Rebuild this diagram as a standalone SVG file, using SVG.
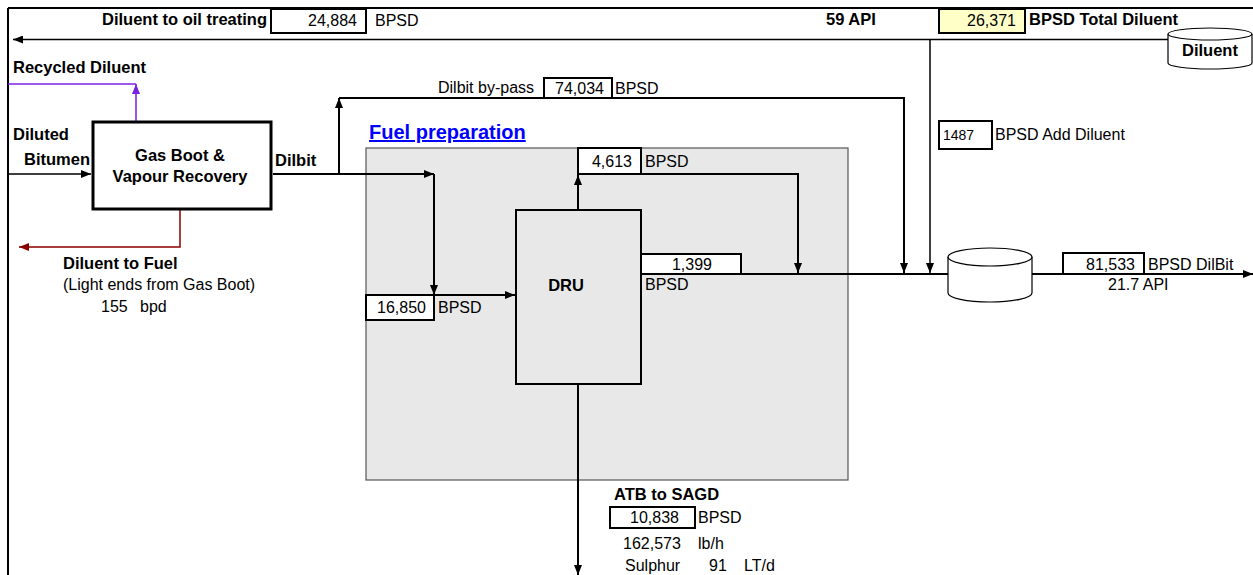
<svg xmlns="http://www.w3.org/2000/svg" width="1253" height="575" viewBox="0 0 1253 575">
<defs>
<marker id="ah" markerUnits="userSpaceOnUse" markerWidth="10" markerHeight="8" refX="10" refY="4" orient="auto"><path d="M0,0 L10,4 L0,8 z" fill="#000"/></marker>
<marker id="ahp" markerUnits="userSpaceOnUse" markerWidth="10" markerHeight="8" refX="10" refY="4" orient="auto"><path d="M0,0 L10,4 L0,8 z" fill="#7A1FE0"/></marker>
<marker id="ahr" markerUnits="userSpaceOnUse" markerWidth="10" markerHeight="8" refX="10" refY="4" orient="auto"><path d="M0,0 L10,4 L0,8 z" fill="#8B0000"/></marker>
<style>
text{font-family:"Liberation Sans",Arial,sans-serif;font-size:16px;fill:#000}
.b{font-weight:bold;font-size:16.5px}
.e{text-anchor:end}
.m{text-anchor:middle}
.vb{fill:#fff;stroke:#000;stroke-width:2}
.c1{fill:none;stroke:#000;stroke-width:1.5}
.c2{fill:none;stroke:#000;stroke-width:2}
.tank{fill:#fff;stroke:#000;stroke-width:1.2}
</style>
</defs>
<rect width="1253" height="575" fill="#fff"/>
<g id="frame">
<line x1="8" y1="8" x2="1253" y2="8" stroke="#000" stroke-width="2"/>
<line x1="8" y1="8" x2="8" y2="575" stroke="#000" stroke-width="2"/>
</g>
<g id="fuel-prep">
<rect x="366" y="148" width="482" height="332" fill="#E8E8E8" stroke="#555" stroke-width="1.2"/>
<text x="369" y="139" class="b" style="font-size:20px;fill:#0000FF" text-decoration="underline">Fuel preparation</text>
</g>
<g id="connectors">
<path class="c1" d="M1168,39.5 H13" marker-end="url(#ah)"/>
<path class="c1" d="M930,40 V273" marker-end="url(#ah)"/>
<path class="c1" d="M8,174 H91" marker-end="url(#ah)"/>
<path d="M136,121 V84" fill="none" stroke="#7A1FE0" stroke-width="1.5" marker-end="url(#ahp)"/>
<path d="M136,84 H8" fill="none" stroke="#7A1FE0" stroke-width="1.5"/>
<path d="M180,210 V247 H19" fill="none" stroke="#8B0000" stroke-width="1.5" marker-end="url(#ahr)"/>
<path class="c2" d="M273,174 H434" marker-end="url(#ah)"/>
<path class="c2" d="M434,174 V295" marker-end="url(#ah)"/>
<path class="c2" d="M339,174 V98" marker-end="url(#ah)"/>
<path class="c2" d="M339,98 H904 V273" marker-end="url(#ah)"/>
<path class="c2" d="M366,295 H515" marker-end="url(#ah)"/>
<path class="c2" d="M578,210 V175" marker-end="url(#ah)"/>
<path class="c2" d="M578,174 H798 V273" marker-end="url(#ah)"/>
<path class="c2" d="M641,274 H948"/>
<path class="c2" d="M1032,274 H1253" marker-end="url(#ah)"/>
<path class="c2" d="M578,384 V575" marker-end="url(#ah)"/>
</g>
<g id="top-labels">
<text x="267" y="25" class="b e">Diluent to oil treating</text>
<rect x="271" y="9" width="95" height="24" class="vb"/>
<text x="357" y="26" class="e">24,884</text>
<text x="375" y="26">BPSD</text>
<text x="826" y="25" class="b">59 API</text>
<rect x="939" y="9" width="86" height="24" fill="#FFFFC8" stroke="#000" stroke-width="2"/>
<text x="1016" y="26" class="e">26,371</text>
<text x="1029" y="25" class="b">BPSD Total Diluent</text>
</g>
<g id="diluent-tank">
<path class="tank" d="M1168,34 A42,6 0 0 1 1252,34 V63 A42,6 0 0 1 1168,63 Z"/>
<path class="tank" d="M1168,34 A42,6 0 0 0 1252,34" fill="none"/>
<text x="1210" y="56" class="b m">Diluent</text>
</g>
<g id="gas-boot">
<rect x="93" y="122" width="178" height="87" fill="#fff" stroke="#000" stroke-width="3"/>
<text x="180" y="161" class="b m">Gas Boot &amp;</text>
<text x="180" y="182" class="b m">Vapour Recovery</text>
</g>
<g id="left-labels">
<text x="13" y="73" class="b">Recycled Diluent</text>
<text x="13" y="140" class="b">Diluted</text>
<text x="24" y="165" class="b">Bitumen</text>
<text x="275" y="166" class="b">Dilbit</text>
<text x="63" y="269" class="b">Diluent to Fuel</text>
<text x="63" y="290">(Light ends from Gas Boot)</text>
<text x="101" y="312">155</text>
<text x="140" y="312">bpd</text>
</g>
<g id="bypass">
<text x="438" y="93">Dilbit by-pass</text>
<rect x="544" y="78" width="68" height="20" class="vb"/>
<text x="604" y="94" class="e">74,034</text>
<text x="615" y="94">BPSD</text>
</g>
<g id="dru">
<rect x="516" y="210" width="125" height="174" fill="#E8E8E8" stroke="#000" stroke-width="2"/>
<text x="566" y="291" class="b m">DRU</text>
</g>
<g id="dru-flows">
<rect x="578" y="148" width="63" height="26" class="vb"/>
<text x="632" y="167" class="e">4,613</text>
<text x="645" y="167">BPSD</text>
<rect x="641" y="254" width="100" height="20" class="vb"/>
<text x="692" y="270" class="m">1,399</text>
<text x="645" y="290">BPSD</text>
<rect x="366" y="295" width="68" height="25" class="vb"/>
<text x="426" y="313" class="e">16,850</text>
<text x="438" y="313">BPSD</text>
</g>
<g id="add-diluent">
<rect x="939" y="121" width="53" height="28" class="vb"/>
<text x="943" y="140" style="font-size:14px">1487</text>
<text x="995" y="140">BPSD Add Diluent</text>
</g>
<g id="dilbit-tank">
<path class="tank" d="M948,257 A42,9 0 0 1 1032,257 V293 A42,9 0 0 1 948,293 Z"/>
<path class="tank" d="M948,257 A42,9 0 0 0 1032,257" fill="none"/>
</g>
<g id="product">
<rect x="1063" y="253" width="81" height="21" class="vb"/>
<text x="1135" y="270" class="e">81,533</text>
<text x="1148" y="270">BPSD DilBit</text>
<text x="1108" y="290">21.7 API</text>
</g>
<g id="atb">
<text x="614" y="500" class="b">ATB to SAGD</text>
<rect x="610" y="507" width="85" height="21" class="vb"/>
<text x="679" y="523" class="e">10,838</text>
<text x="698" y="523">BPSD</text>
<text x="623" y="549">162,573</text>
<text x="698" y="549">lb/h</text>
<text x="625" y="571">Sulphur</text>
<text x="709" y="571">91</text>
<text x="744" y="571">LT/d</text>
</g>
</svg>
